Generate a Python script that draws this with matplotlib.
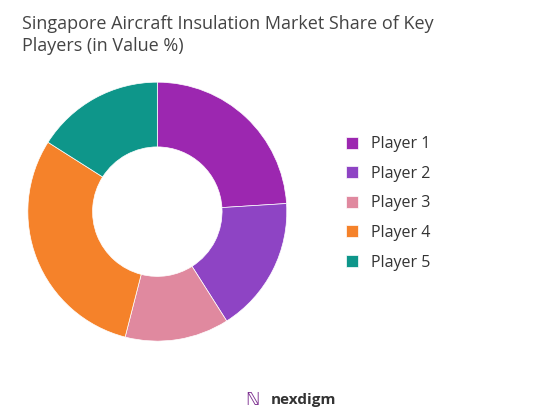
import matplotlib
matplotlib.use("Agg")
import matplotlib.pyplot as plt

labels = ["Player 1", "Player 2", "Player 3", "Player 4", "Player 5"]
values = [24, 17, 13, 30, 16]
colors = ["#9C27B0", "#8E44C4", "#E0899F", "#F5822A", "#0E968A"]

plt.rcParams['font.family'] = ['Open Sans', 'DejaVu Sans']
fig = plt.figure(figsize=(5.52, 4.15), dpi=100)
ax = fig.add_axes([-0.01, 0.10, 0.59, 0.78])
wedges, _ = ax.pie(values, colors=colors, startangle=90, counterclock=False,
                   wedgeprops=dict(width=0.5, edgecolor='white', linewidth=0.5))
ax.set_aspect('equal')
fig.text(0.04, 0.965, "Singapore Aircraft Insulation Market Share of Key\nPlayers (in Value %)",
         fontsize=13, color="#444444", va="top", ha="left", linespacing=1.35)
fig.legend(wedges, labels, loc="center left", bbox_to_anchor=(0.6, 0.51), frameon=False,
           fontsize=11.5, handlelength=0.8, handleheight=0.8, labelspacing=0.85, labelcolor="#333333")
fig.text(0.49, 0.035, "nexdigm", fontsize=11, color="#333333", ha="left", va="center", fontweight="bold")
fig.text(0.445, 0.035, "\u2115", fontsize=13, color="#7B2D8E", ha="left", va="center", family=['DejaVu Sans'])
fig.savefig("out.png", dpi=100)
